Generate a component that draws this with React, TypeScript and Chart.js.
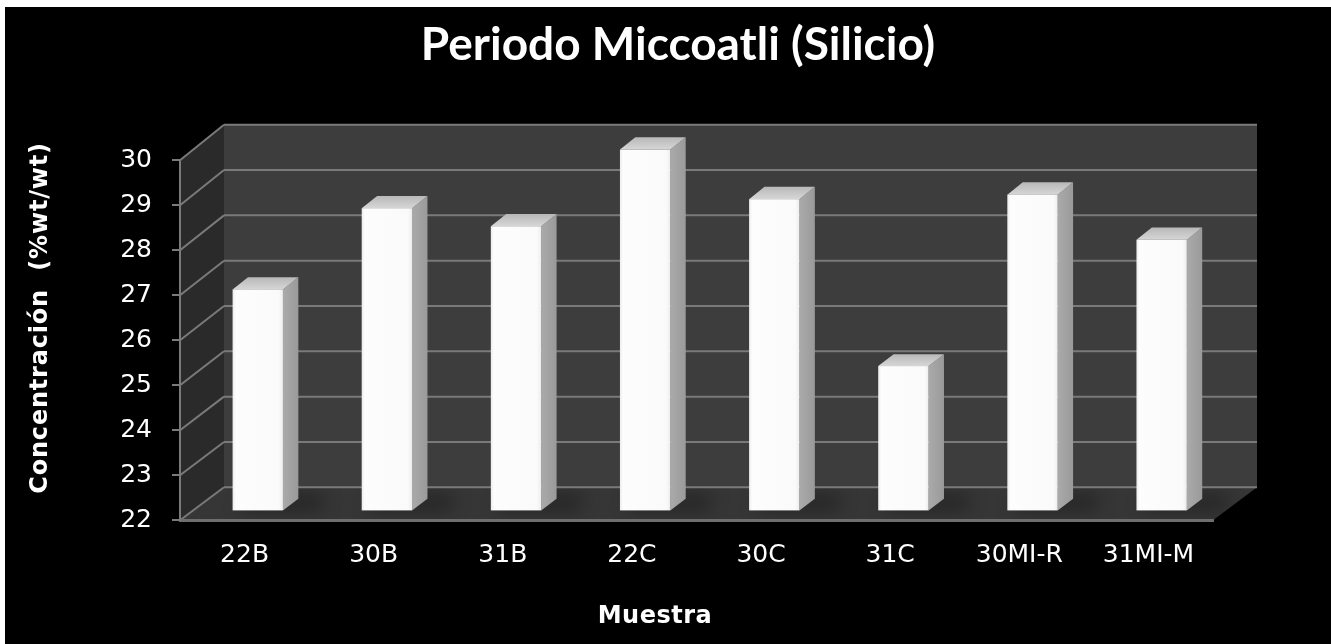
import React, { useEffect, useRef } from "react";
import { Chart, registerables } from "chart.js";

Chart.register(...registerables);

// Sample labels and silicon concentration (%wt/wt) per sample
const categories = ["22B", "30B", "31B", "22C", "30C", "31C", "30MI-R", "31MI-M"];
const silicio = [26.9, 28.7, 28.3, 30.0, 28.9, 25.2, 29.0, 28.0];

// Value axis range and step
const Y_MIN = 22;
const Y_MAX = 30;
const Y_STEP = 1;

const chartTitle = "Periodo Miccoatli (Silicio)";
const yAxisTitle = "Concentración  (%wt/wt)";
const xAxisTitle = "Muestra";

// Oblique depth of the 3D room (px): horizontal shift and vertical rise
const DEPTH_DX = 44;
const DEPTH_DY_BOTTOM = -33;
const DEPTH_DY_TOP = -35.5;
// Bars sit between these fractions of the room depth
const BAR_F0 = 0.3;
const BAR_F1 = 0.65;

const CANVAS_W = 1326;
const CANVAS_H = 637;

function depthDy(v: number) {
  const t = (v - Y_MIN) / (Y_MAX - Y_MIN);
  return DEPTH_DY_BOTTOM + (DEPTH_DY_TOP - DEPTH_DY_BOTTOM) * t;
}

function fillPoly(ctx: CanvasRenderingContext2D, pts: number[][], fill: string | CanvasGradient) {
  ctx.beginPath();
  ctx.moveTo(pts[0][0], pts[0][1]);
  for (let i = 1; i < pts.length; i++) ctx.lineTo(pts[i][0], pts[i][1]);
  ctx.closePath();
  ctx.fillStyle = fill;
  ctx.fill();
}

function line(ctx: CanvasRenderingContext2D, x1: number, y1: number, x2: number, y2: number) {
  ctx.beginPath();
  ctx.moveTo(x1, y1);
  ctx.lineTo(x2, y2);
  ctx.stroke();
}

// Black background, side wall, back wall, floor, grid and floor shadows
const room3d = {
  id: "room3d",
  beforeDraw(chart: any) {
    const { ctx, width, height, chartArea } = chart;
    const ys = chart.scales.y;
    const L = chartArea.left;
    const R = chartArea.right;
    const yb = ys.getPixelForValue(Y_MIN);
    const yt = ys.getPixelForValue(Y_MAX);
    const dyb = depthDy(Y_MIN);
    const dyt = depthDy(Y_MAX);

    ctx.save();
    ctx.fillStyle = "#000";
    ctx.fillRect(0, 0, width, height);

    // left side wall
    fillPoly(ctx, [[L, yb], [L, yt], [L + DEPTH_DX, yt + dyt], [L + DEPTH_DX, yb + dyb]], "#2a2a2a");
    // back wall
    fillPoly(
      ctx,
      [[L + DEPTH_DX, yt + dyt], [R + DEPTH_DX, yt + dyt], [R + DEPTH_DX, yb + dyb], [L + DEPTH_DX, yb + dyb]],
      "#3d3d3d"
    );
    // floor
    const floorPts = [[L, yb], [R, yb], [R + DEPTH_DX, yb + dyb], [L + DEPTH_DX, yb + dyb]];
    fillPoly(ctx, floorPts, "#363636");

    // soft shadows cast on the floor by the bars
    const meta = chart.getDatasetMeta(0);
    ctx.save();
    ctx.beginPath();
    ctx.moveTo(floorPts[0][0], floorPts[0][1]);
    for (let i = 1; i < 4; i++) ctx.lineTo(floorPts[i][0], floorPts[i][1]);
    ctx.closePath();
    ctx.clip();
    ctx.filter = "blur(9px)";
    meta.data.forEach((bar: any) => {
      const { x, width: bw } = bar.getProps(["x", "width"], true);
      const left = x - bw / 2 + BAR_F0 * DEPTH_DX;
      const baseY = yb + BAR_F0 * dyb;
      const dx2 = (BAR_F1 - BAR_F0) * DEPTH_DX;
      const dy2 = (BAR_F1 - BAR_F0) * dyb;
      fillPoly(
        ctx,
        [
          [left + 4, baseY],
          [left + bw + dx2 + 22, baseY],
          [left + bw + dx2 + 28, baseY + dy2 - 4],
          [left + dx2, baseY + dy2 - 4],
        ],
        "rgba(0,0,0,0.32)"
      );
    });
    ctx.restore();

    // grid lines on the side wall and back wall
    ctx.strokeStyle = "#7a7a7a";
    ctx.lineWidth = 2;
    for (let v = Y_MIN; v <= Y_MAX; v += Y_STEP) {
      const y = ys.getPixelForValue(v);
      const dy = depthDy(v);
      line(ctx, L, y, L + DEPTH_DX, y + dy);
      line(ctx, L + DEPTH_DX, y + dy, R + DEPTH_DX, y + dy);
    }
    ctx.restore();
  },
  afterDatasetsDraw(chart: any) {
    const { ctx } = chart;
    const ys = chart.scales.y;
    const meta = chart.getDatasetMeta(0);
    const floorY = ys.getPixelForValue(Y_MIN);
    ctx.save();
    meta.data.forEach((bar: any, i: number) => {
      const { x, y, width: bw } = bar.getProps(["x", "y", "width"], true);
      const v = silicio[i];
      const left = x - bw / 2 + BAR_F0 * DEPTH_DX;
      const right = left + bw;
      const top = y + BAR_F0 * depthDy(v);
      const bottom = floorY + BAR_F0 * depthDy(Y_MIN);
      const ddx = (BAR_F1 - BAR_F0) * DEPTH_DX;
      const ddyTop = (BAR_F1 - BAR_F0) * depthDy(v);
      const ddyBot = (BAR_F1 - BAR_F0) * depthDy(Y_MIN);

      // side face
      const sg = ctx.createLinearGradient(right, 0, right + ddx, 0);
      sg.addColorStop(0, "#aaaaaa");
      sg.addColorStop(1, "#9a9a9a");
      fillPoly(ctx, [[right, top], [right + ddx, top + ddyTop], [right + ddx, bottom + ddyBot], [right, bottom]], sg);

      // top face
      const tg = ctx.createLinearGradient(0, top, 0, top + ddyTop);
      tg.addColorStop(0, "#d6d6d6");
      tg.addColorStop(1, "#b8b8b8");
      fillPoly(ctx, [[left, top], [right, top], [right + ddx, top + ddyTop], [left + ddx, top + ddyTop]], tg);

      // front face
      const fg = ctx.createLinearGradient(left, 0, right, 0);
      fg.addColorStop(0, "#ececec");
      fg.addColorStop(0.06, "#fdfdfd");
      fg.addColorStop(0.92, "#fafafa");
      fg.addColorStop(1, "#ededed");
      ctx.fillStyle = fg;
      ctx.fillRect(left, top, bw, bottom - top);
    });
    ctx.restore();
  },
  afterDraw(chart: any) {
    const { ctx } = chart;
    ctx.save();
    ctx.fillStyle = "#ffffff";
    ctx.textAlign = "center";
    ctx.textBaseline = "middle";
    ctx.font = "bold 24px 'DejaVu Sans'";
    (ctx as any).letterSpacing = "0.8px";
    // vertical value-axis title
    ctx.save();
    ctx.translate(36, 311);
    ctx.rotate(-Math.PI / 2);
    ctx.fillText(yAxisTitle, 0, 0);
    ctx.restore();
    // category-axis title
    (ctx as any).letterSpacing = "0.5px";
    ctx.fillText(xAxisTitle, 650, 610);
    ctx.restore();
  },
};

export default function App() {
  const canvasRef = useRef<HTMLCanvasElement | null>(null);

  useEffect(() => {
    const canvas = canvasRef.current;
    if (!canvas) return;
    const chart = new Chart(canvas, {
      type: "bar",
      data: {
        labels: categories,
        datasets: [
          {
            label: "Silicio",
            data: silicio,
            backgroundColor: "rgba(0,0,0,0)",
            borderWidth: 0,
            categoryPercentage: 1,
            barPercentage: 0.39,
          },
        ],
      },
      options: {
        responsive: false,
        animation: false,
        events: [],
        layout: { padding: { left: 20, right: 0, top: 0, bottom: 0 } },
        plugins: {
          legend: { display: false },
          tooltip: { enabled: false },
          title: {
            display: true,
            text: chartTitle,
            color: "#ffffff",
            font: { family: "Lato", size: 46, weight: "bold" },
            padding: { top: 11, bottom: 87 },
          },
        },
        scales: {
          x: {
            grid: { display: false, drawTicks: false },
            border: { display: true, color: "#6e6e6e", width: 3 },
            ticks: {
              color: "#ffffff",
              font: { family: "DejaVu Sans", size: 25 },
              padding: 20,
              maxRotation: 0,
              autoSkip: false,
            },
            afterFit: (s: any) => {
              s.height = 123.7;
            },
          },
          y: {
            min: Y_MIN,
            max: Y_MAX,
            grid: { drawOnChartArea: false, drawTicks: true, tickLength: 8, color: "#7a7a7a", lineWidth: 2 },
            border: { display: true, color: "#7a7a7a", width: 2 },
            ticks: {
              stepSize: Y_STEP,
              color: "#ffffff",
              font: { family: "DejaVu Sans", size: 25 },
              padding: 20,
            },
            afterFit: (s: any) => {
              s.width = 155;
            },
          },
          yRight: {
            type: "linear",
            position: "right",
            display: true,
            grid: { display: false, drawTicks: false },
            border: { display: false },
            ticks: { display: false },
            afterFit: (s: any) => {
              s.width = 118;
            },
          },
        },
      },
      plugins: [room3d],
    } as any);
    return () => chart.destroy();
  }, []);

  return (
    <div style={{ position: "absolute", left: 5, top: 7, width: CANVAS_W, height: CANVAS_H }}>
      <canvas ref={canvasRef} width={CANVAS_W} height={CANVAS_H} style={{ display: "block" }} />
    </div>
  );
}
